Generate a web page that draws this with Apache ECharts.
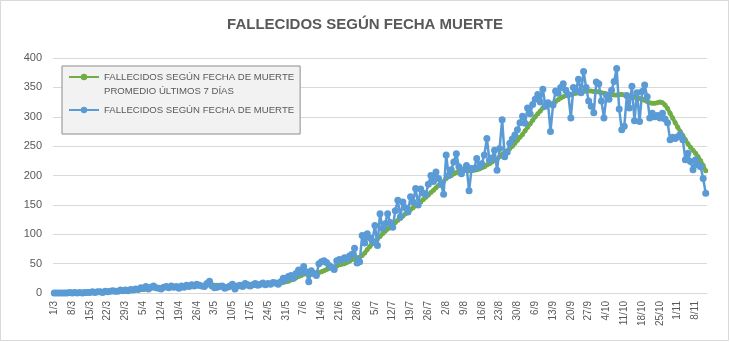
<!DOCTYPE html>
<html>
<head>
<meta charset="utf-8">
<script src="https://cdn.jsdelivr.net/npm/echarts@6/dist/echarts.min.js"></script>
<style>
  html, body { margin: 0; padding: 0; background: #ffffff; }
  #chart { width: 730px; height: 342px; }
</style>
</head>
<body>
<div id="chart"></div>
<script>
// Daily deaths by date of death, 1/3 to 12/11
const startDate = [2020, 2, 1];
const dayCount = 257;

const dailyDeaths = [
  0,0,0,0,0,0,1,
  0,1,0,1,0,1,1,
  1,2,1,2,2,1,3,
  2,3,4,3,3,5,4,
  5,4,6,5,7,6,9,
  8,11,7,10,12,9,8,
  7,10,11,9,12,10,11,
  8,12,10,13,11,14,12,
  15,13,12,11,16,20,12,
  9,10,11,12,8,10,12,
  15,7,12,13,11,16,14,
  12,14,16,13,15,17,14,
  16,15,18,17,15,19,25,
  22,28,30,25,33,39,35,
  45,36,19,38,33,30,50,
  53,55,52,47,44,40,55,
  57,56,60,58,63,66,76,
  51,53,98,85,101,94,88,
  115,81,135,110,118,135,120,
  112,140,158,130,155,145,138,
  164,155,178,150,177,170,168,
  185,200,190,206,195,185,168,
  235,200,210,223,237,215,203,
  210,217,174,212,212,229,215,
  220,235,263,226,230,243,209,
  246,295,232,240,255,262,269,
  278,290,301,289,315,305,321,
  330,338,325,347,318,324,275,
  320,344,340,350,356,345,338,
  298,350,345,364,341,377,350,
  327,318,307,359,356,327,298,
  336,330,345,360,382,313,278,
  284,336,315,352,293,341,292,
  343,354,334,298,306,300,302,
  298,306,296,290,261,265,263,
  266,270,261,227,238,224,210,
  227,218,215,195,170
];

// 7-day average line
const weeklyAverage = [
  0,0,0,0,0,0,0,
  0,0,0,0,0,1,1,
  1,1,1,1,1,1,2,
  2,2,2,2,3,3,3,
  4,4,4,5,5,5,6,
  6,7,7,8,9,9,9,
  9,10,10,10,10,10,10,
  10,10,10,11,11,12,12,
  12,12,12,12,13,14,14,
  13,13,13,12,11,11,10,
  11,11,11,11,12,12,12,
  13,13,13,14,14,15,15,
  15,15,16,16,16,17,18,
  19,20,22,24,26,28,30,
  32,33,32,32,33,34,35,
  36,38,40,42,43,44,46,
  48,49,50,52,54,57,59,
  60,61,64,68,74,79,84,
  88,92,96,101,105,109,112,
  116,120,124,127,131,135,139,
  142,145,149,152,155,159,163,
  167,171,175,179,183,187,190,
  195,198,200,203,205,207,208,
  209,209,208,208,209,210,211,
  213,215,218,220,223,226,228,
  232,236,239,242,246,250,255,
  260,265,270,276,282,288,294,
  300,305,310,315,318,320,321,
  323,326,329,332,334,336,337,
  338,339,340,341,342,343,344,
  344,344,343,343,342,341,340,
  339,338,338,337,337,338,338,
  337,336,335,334,333,332,331,
  330,328,326,324,323,323,324,
  325,324,320,314,306,298,290,
  282,275,268,261,254,248,243,
  238,232,225,217,208
];

const yTicks = { min: 0, max: 400, step: 50 };
const seriesNames = [
  'FALLECIDOS SEGÚN FECHA DE MUERTE\nPROMEDIO ÚLTIMOS 7 DÍAS',
  'FALLECIDOS SEGÚN FECHA DE MUERTE'
];
const chartTitle = 'FALLECIDOS SEGÚN FECHA MUERTE';

// "d/m" labels, one per day
const categories = [];
for (let i = 0; i < dayCount; i++) {
  const d = new Date(startDate[0], startDate[1], startDate[2] + i);
  categories.push(d.getDate() + '/' + (d.getMonth() + 1));
}

const GREEN = '#70AD47';
const BLUE = '#5B9BD5';
const TEXT = '#595959';
const GRIDLINE = '#d9d9d9';
const FONT = '"Liberation Sans", Arial, sans-serif';

const chart = echarts.init(document.getElementById('chart'), null, { renderer: 'canvas' });

chart.setOption({
  animation: false,
  backgroundColor: '#ffffff',
  title: {
    text: chartTitle,
    left: 'center',
    top: 12,
    textStyle: { fontFamily: FONT, fontSize: 15, fontWeight: 'bold', color: TEXT }
  },
  graphic: [{
    type: 'rect',
    shape: { x: 0.5, y: 0.5, width: 728, height: 340 },
    style: { fill: 'none', stroke: GRIDLINE, lineWidth: 1 },
    silent: true,
    z: -1
  }],
  legend: {
    orient: 'vertical',
    left: 62,
    top: 66,
    itemWidth: 30,
    itemHeight: 8,
    itemGap: 5,
    padding: [-10, 6, 17, 6],
    backgroundColor: '#f2f2f2',
    borderColor: '#8c8c8c',
    borderWidth: 1,
    borderRadius: 0,
    data: seriesNames,
    // a leading blank line keeps the first text line level with the icon
    formatter: function (name) {
      return name.indexOf('\n') >= 0 ? '\n' + name : name;
    },
    textStyle: { fontFamily: FONT, fontSize: 9.6, color: TEXT, lineHeight: 14 }
  },
  grid: { left: 53, right: 23, top: 58, bottom: 49, containLabel: false },
  xAxis: {
    type: 'category',
    data: categories,
    boundaryGap: true,
    axisLine: { lineStyle: { color: GRIDLINE, width: 1 } },
    axisTick: { interval: 6, length: 5, lineStyle: { color: GRIDLINE } },
    axisLabel: {
      interval: 6,
      rotate: 90,
      margin: 8,
      color: TEXT,
      fontFamily: FONT,
      fontSize: 10
    },
    splitLine: { show: false }
  },
  yAxis: {
    type: 'value',
    min: yTicks.min,
    max: yTicks.max,
    interval: yTicks.step,
    axisLine: { show: false },
    axisTick: { show: false },
    axisLabel: { color: TEXT, fontFamily: FONT, fontSize: 11, margin: 11 },
    splitLine: { lineStyle: { color: GRIDLINE, width: 1 } }
  },
  series: [
    {
      name: seriesNames[0],
      type: 'line',
      data: weeklyAverage,
      symbol: 'circle',
      symbolSize: 5,
      showAllSymbol: true,
      itemStyle: { color: GREEN },
      lineStyle: { color: GREEN, width: 4 },
      z: 2
    },
    {
      name: seriesNames[1],
      type: 'line',
      data: dailyDeaths,
      symbol: 'circle',
      symbolSize: 7,
      showAllSymbol: true,
      itemStyle: { color: BLUE },
      lineStyle: { color: BLUE, width: 2.5 },
      z: 3
    }
  ]
});
</script>
</body>
</html>
